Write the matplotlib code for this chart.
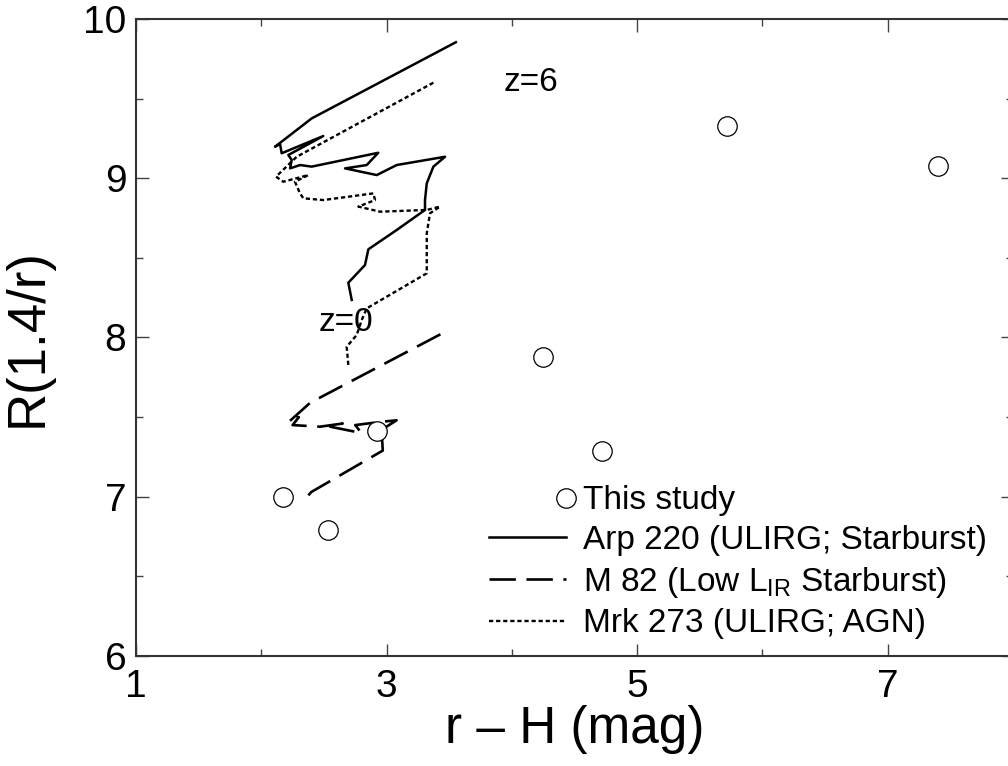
import matplotlib
matplotlib.use("Agg")
import matplotlib.pyplot as plt

plt.rcParams['font.family'] = ['Liberation Sans', 'DejaVu Sans']
plt.rcParams['mathtext.fontset'] = 'custom'
plt.rcParams['mathtext.rm'] = 'Liberation Sans'

# observed galaxies (r-H, R(1.4/r))
obs_x = [2.17, 2.53, 2.92, 4.25, 4.72, 5.72, 7.40]
obs_y = [7.00, 6.79, 7.41, 7.88, 7.29, 9.33, 9.08]

# redshift tracks, z=6 end first
arp_x = [3.553, 2.403, 2.110, 2.150, 2.163, 2.495, 2.216, 2.243, 2.230, 2.309,
         2.403, 2.934, 2.842, 2.669, 2.922, 3.081, 3.467, 3.374, 3.321, 3.307,
         3.307, 3.081, 2.855, 2.828, 2.695, 2.722]
arp_y = [9.854, 9.376, 9.198, 9.215, 9.157, 9.265, 9.146, 9.115, 9.062, 9.083,
         9.073, 9.160, 9.083, 9.062, 9.020, 9.083, 9.135, 9.073, 8.968, 8.863,
         8.801, 8.675, 8.554, 8.455, 8.344, 8.236]

m82_x = [3.43, 2.39, 2.22, 2.30, 2.25, 2.47, 2.65, 2.55, 2.80, 2.75,
         2.95, 3.08, 2.96, 2.97, 2.40, 2.33]
m82_y = [8.02, 7.59, 7.47, 7.50, 7.45, 7.44, 7.46, 7.44, 7.40, 7.45,
         7.47, 7.48, 7.42, 7.29, 7.03, 6.97]

mrk_x = [3.374, 2.283, 2.118, 2.176, 2.376, 2.269, 2.309, 2.336, 2.495, 2.895,
         2.908, 2.775, 2.948, 3.321, 3.427, 3.347, 3.321, 3.321, 2.842, 2.802,
         2.762, 2.682, 2.695]
mrk_y = [9.600, 9.135, 9.010, 8.978, 9.020, 8.978, 8.905, 8.874, 8.863, 8.905,
         8.863, 8.822, 8.790, 8.801, 8.822, 8.780, 8.654, 8.403, 8.183, 8.110,
         8.016, 7.942, 7.827]

fig = plt.figure(figsize=(10.08, 7.66), dpi=100)
ax = fig.add_axes([0.1349, 0.1436, 0.870, 0.8316])

ax.plot(obs_x, obs_y, 'o', ms=14, mfc='white', mec='black', mew=0.9,
        label='This study', zorder=3)
ax.plot(arp_x, arp_y, '-', color='black', lw=1.8,
        label='Arp 220 (ULIRG; Starburst)')
ax.plot(m82_x, m82_y, color='black', lw=1.9, linestyle=(0, (10, 4)),
        label=r'M 82 (Low L$_{\rm IR}$ Starburst)')
ax.plot(mrk_x, mrk_y, color='black', lw=1.7, linestyle=(0, (1.8, 1.2)),
        label='Mrk 273 (ULIRG; AGN)')

ax.text(4.154, 9.604, 'z=6', fontsize=24, ha='center', va='center')
ax.text(2.677, 8.097, 'z=0', fontsize=24, ha='center', va='center')

ax.set_xlim(1, 8)
ax.set_ylim(6, 10)
ax.set_xticks([1, 3, 5, 7])
ax.set_xticks([2, 4, 6], minor=True)
ax.set_yticks([6, 7, 8, 9, 10])
ax.set_yticks([6.5, 7.5, 8.5, 9.5], minor=True)
ax.tick_params(which='both', direction='in', top=True, right=True,
               width=1, color='#444444')
ax.tick_params(which='major', length=9, labelsize=28)
ax.tick_params(axis='x', which='major', pad=9)
ax.tick_params(axis='y', which='major', pad=7)
ax.tick_params(which='minor', length=5)
for s in ax.spines.values():
    s.set_linewidth(1.5)
    s.set_color('#333333')

ax.set_xlabel('r \u2013 H (mag)', fontsize=37, labelpad=0)
ax.set_ylabel('R(1.4/r)', fontsize=38, labelpad=22)

leg = ax.legend(loc='upper left', bbox_to_anchor=(0.403, 0.268), frameon=False,
                fontsize=24, numpoints=1, handlelength=2.3, handletextpad=0.5,
                labelspacing=0.26, borderpad=0, borderaxespad=0)
leg.legend_handles[0].set_markevery([2])

fig.savefig('out.png', dpi=100)
